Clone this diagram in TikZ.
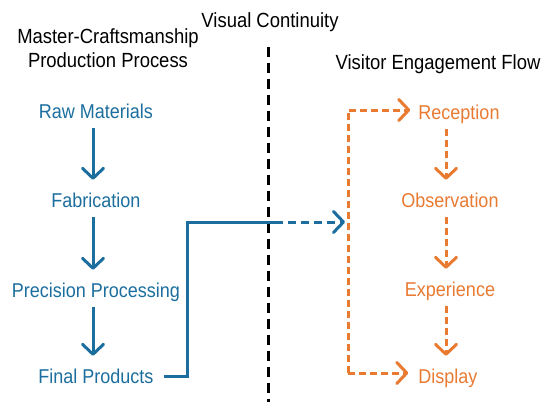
\documentclass[tikz,border=0pt]{standalone}
\usepackage{fontspec}
\setmainfont{Liberation Sans}[FakeStretch=0.9]
\usetikzlibrary{arrows.meta}
\definecolor{craftblue}{HTML}{1B6E9E}
\definecolor{visitorange}{HTML}{E97A32}

\begin{document}
\begin{tikzpicture}[x=1pt, y=-1pt,
	head/.style={anchor=base, align=center, inner sep=0pt, font=\fontsize{20.5}{24}\selectfont},
	stage/.style={anchor=base, inner sep=0pt, text height=14pt, text depth=4pt, font=\fontsize{20}{22}\selectfont},
	craft/.style={stage, text=craftblue},
	visit/.style={stage, text=visitorange},
	barb/.style={-{Straight Barb[length=10pt, width=21pt, line cap=round, line join=round]}},
	craftarrow/.style={barb, craftblue, line width=3pt, shorten <=6pt, shorten >=13pt},
	visitarrow/.style={barb, visitorange, line width=3pt, dash pattern=on 7pt off 4pt, shorten <=6pt, shorten >=13pt},
	divider/.style={black, line width=3pt, dash pattern=on 10pt off 6pt}]
	\useasboundingbox (0, 0) rectangle (550, 413);
	%% titles
	\node[head] (title) at (270, 27) {Visual Continuity};
	\node[head] (crafthead) at (108, 67) {Master-Craftsmanship\\Production Process};
	\node[head] (visithead) at (438, 69) {Visitor Engagement Flow};
	%%
	\draw[divider] (268, 47) -- (268, 402);
	%% production process
	\node[craft] (raw) at (96, 118) {Raw Materials};
	\node[craft] (fab) at (96, 207) {Fabrication};
	\node[craft] (prec) at (96, 297) {Precision Processing};
	\node[craft] (final) at (96, 383) {Final Products};
	\draw[craftarrow] ([xshift=-3pt]raw.south) -- ([xshift=-3pt]fab.north);
	\draw[craftarrow] ([xshift=-3pt]fab.south) -- ([xshift=-3pt]prec.north);
	\draw[craftarrow] ([xshift=-3pt]prec.south) -- ([xshift=-3pt]final.north);
	%% visitor flow
	\node[visit] (recep) at (459, 119) {Reception};
	\node[visit] (obs) at (450, 207) {Observation};
	\node[visit] (exper) at (450, 296) {Experience};
	\node[visit] (disp) at (448, 383) {Display};
	\draw[visitarrow] ([xshift=-4pt]obs.north |- recep.south) -- ([xshift=-4pt]obs.north);
	\draw[visitarrow] ([xshift=-4pt]obs.south) -- ([xshift=-4pt]exper.north);
	\draw[visitarrow] ([xshift=-4pt]exper.south) -- ([xshift=-4pt]exper.north |- disp.north);
	%% side path
	\coordinate (vtop) at (348, 110);
	\coordinate (vbot) at (348, 373);
	\draw[barb, visitorange, line width=3pt, dash pattern=on 7pt off 4pt, line join=round, shorten >=8pt]
		(vbot) -- (vtop) -- (vtop -| recep.west);
	\draw[barb, visitorange, line width=3pt, dash pattern=on 7pt off 4pt, shorten >=10pt]
		(vbot) -- (vbot -| disp.west);
	%% link across
	\coordinate (linkout) at ([xshift=10pt, yshift=4pt]final.mid east);
	\coordinate (gate) at (275, 222);
	\draw[craftblue, line width=3pt] (linkout) -- ++(24, 0) |- (gate);
	\draw[barb, craftblue, line width=3pt, dash pattern=on 8pt off 5pt, shorten >=3pt] (gate) -- (gate -| vtop);
\end{tikzpicture}
\end{document}
